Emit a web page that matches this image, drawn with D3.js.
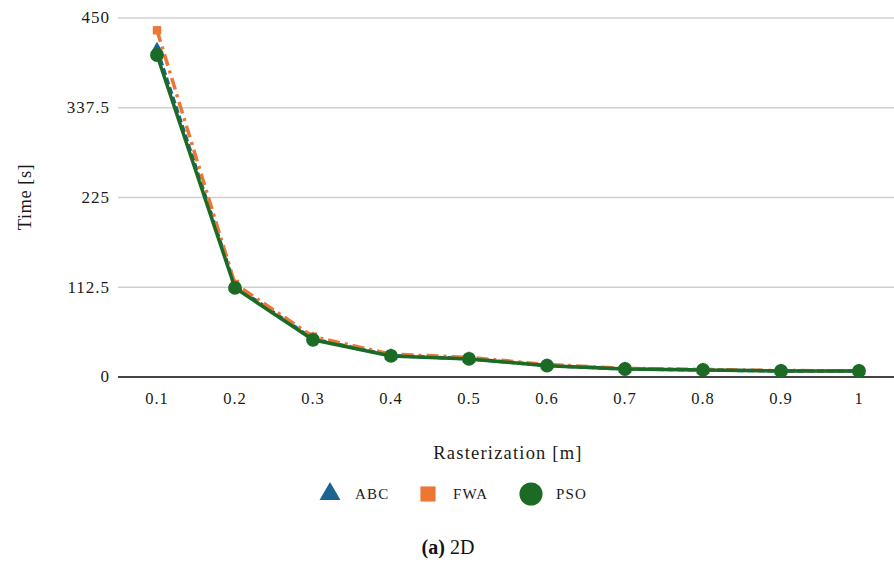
<!DOCTYPE html>
<html>
<head>
<meta charset="utf-8">
<script src="https://cdn.jsdelivr.net/npm/d3@7"></script>
<style>
  body { margin: 0; background: #fff; }
  svg { display: block; }
  svg text { font-family: "Liberation Serif", "DejaVu Serif", serif; }
</style>
</head>
<body>
<div id="chart"></div>
<script>
// Chart data
const categories = ['0.1', '0.2', '0.3', '0.4', '0.5', '0.6', '0.7', '0.8', '0.9', '1'];
const abcValues = [410, 113, 47, 26.2, 22.3, 13.8, 9.5, 8.2, 7, 7];
const fwaValues = [434, 116, 50, 28, 24, 15, 10.2, 8.8, 7.4, 7.3];
const psoValues = [403, 111, 46, 25.8, 22, 13.6, 9.4, 8.2, 6.9, 6.9];
const yTicks = [0, 112.5, 225, 337.5, 450];
const yTickLabels = ['0', '112.5', '225', '337.5', '450'];

const width = 894, height = 571;
const plot = {left: 118, right: 898, top: 17.5, bottom: 376.5};

const svg = d3.select('#chart').append('svg')
    .attr('width', width)
    .attr('height', height);

const x = d3.scaleBand()
    .domain(categories)
    .range([plot.left, plot.right]);

const y = d3.scaleLinear()
    .domain([0, 450])
    .range([plot.bottom, plot.top]);

// Gridlines and y axis labels
const yAxis = svg.append('g')
    .attr('transform', `translate(${plot.left},0)`)
    .call(d3.axisLeft(y).tickValues(yTicks).tickSize(0).tickPadding(8)
        .tickFormat((d, i) => yTickLabels[i]));
yAxis.select('.domain').remove();
yAxis.selectAll('text')
    .style('font-family', '"Liberation Serif", serif')
    .style('font-size', '17px')
    .style('letter-spacing', '1px')
    .attr('fill', '#1a1a1a');
yAxis.selectAll('.tick').append('line')
    .attr('x1', 0)
    .attr('x2', width - plot.left)
    .attr('stroke', d => d === 0 ? '#444' : '#d0d0d0')
    .attr('stroke-width', d => d === 0 ? 2 : 1.3);

// x axis labels
const xAxis = svg.append('g')
    .attr('transform', `translate(0,${plot.bottom})`)
    .call(d3.axisBottom(x).tickSize(0).tickPadding(16));
xAxis.select('.domain').remove();
xAxis.selectAll('text')
    .style('font-family', '"Liberation Serif", serif')
    .style('font-size', '16.5px')
    .style('letter-spacing', '1px')
    .attr('fill', '#1a1a1a');

// Axis titles
svg.append('text')
    .attr('x', 508)
    .attr('y', 459)
    .attr('text-anchor', 'middle')
    .style('font-size', '18.5px')
    .style('letter-spacing', '1.2px')
    .attr('fill', '#1a1a1a')
    .text('Rasterization [m]');

svg.append('text')
    .attr('transform', `translate(31,197) rotate(-90)`)
    .attr('text-anchor', 'middle')
    .style('font-size', '18.5px')
    .style('letter-spacing', '0.5px')
    .attr('fill', '#1a1a1a')
    .text('Time [s]');

// Series
const series = [
    {name: 'ABC', values: abcValues, color: '#1b6391', dash: '7,3', marker: 'triangle'},
    {name: 'FWA', values: fwaValues, color: '#ec7634', dash: '12,5,3,5', marker: 'square'},
    {name: 'PSO', values: psoValues, color: '#1c6b24', dash: null, marker: 'circle'}
];

const line = d3.line()
    .x((d, i) => x(categories[i]) + x.bandwidth() / 2)
    .y(d => y(d));

const symbolType = {triangle: d3.symbolTriangle, square: d3.symbolSquare, circle: d3.symbolCircle};
const symbolSize = {triangle: 75, square: 70, circle: 150};

series.forEach(s => {
    svg.append('path')
        .datum(s.values)
        .attr('d', line)
        .attr('fill', 'none')
        .attr('stroke', s.color)
        .attr('stroke-width', 3.5)
        .attr('stroke-dasharray', s.dash);
    svg.append('g')
        .selectAll('path')
        .data(s.values)
        .enter()
        .append('path')
        .attr('d', d3.symbol().type(symbolType[s.marker]).size(symbolSize[s.marker]))
        .attr('transform', (d, i) => `translate(${x(categories[i]) + x.bandwidth() / 2},${y(d)})`)
        .attr('fill', s.color);
});

// Legend
const legendX = [330, 428, 531];
const legendSymSize = {triangle: 190, square: 230, circle: 420};
const legend = svg.append('g');
series.forEach((s, i) => {
    legend.append('path')
        .attr('d', d3.symbol().type(symbolType[s.marker]).size(legendSymSize[s.marker]))
        .attr('transform', `translate(${legendX[i]},494)`)
        .attr('fill', s.color);
    legend.append('text')
        .attr('x', legendX[i] + 25)
        .attr('y', 499)
        .style('font-size', '15px')
        .style('letter-spacing', '1.2px')
        .attr('fill', '#1a1a1a')
        .text(s.name);
});

// Caption
const caption = svg.append('text')
    .attr('x', 448)
    .attr('y', 554)
    .attr('text-anchor', 'middle')
    .style('font-size', '20px')
    .attr('fill', '#111');
caption.append('tspan').attr('font-weight', 'bold').text('(a)');
caption.append('tspan').text(' 2D');
</script>
</body>
</html>
